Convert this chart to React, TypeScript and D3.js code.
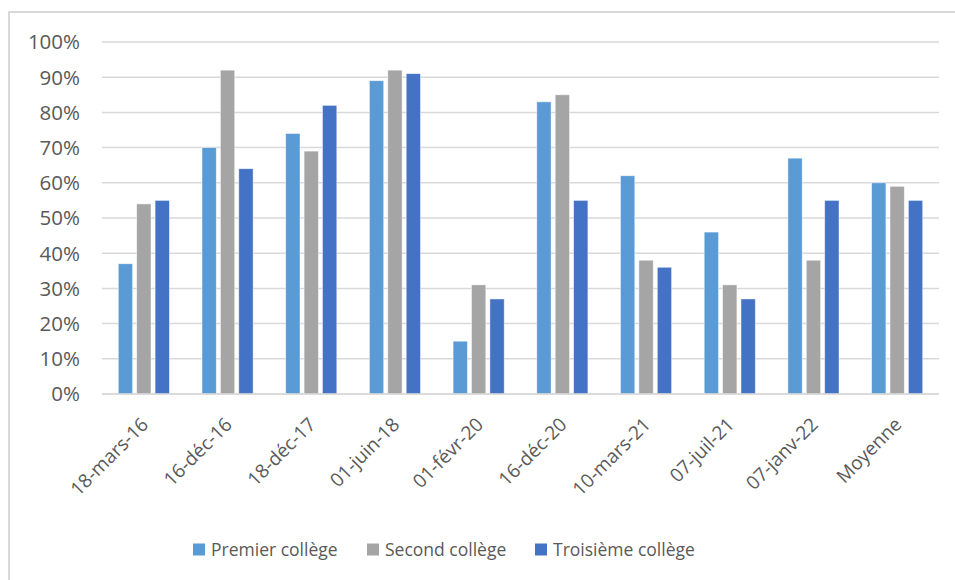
import React, { useEffect, useRef } from 'react';
import * as d3 from 'd3';

const categories = ['18-mars-16', '16-déc-16', '18-déc-17', '01-juin-18', '01-févr-20', '16-déc-20', '10-mars-21', '07-juil-21', '07-janv-22', 'Moyenne'];
const seriesNames = ['Premier collège', 'Second collège', 'Troisième collège'];
const premier = [37, 70, 74, 89, 15, 83, 62, 46, 67, 60];
const second = [54, 92, 69, 92, 31, 85, 38, 31, 38, 59];
const troisieme = [55, 64, 82, 91, 27, 55, 36, 27, 55, 55];
const yTicks = [0, 10, 20, 30, 40, 50, 60, 70, 80, 90, 100];
const colors = ['#5B9BD5', '#A5A5A5', '#4472C4'];

const W = 955;
const H = 580;
const FONT = '"Open Sans", "Liberation Sans", sans-serif';

export default function App() {
  const svgRef = useRef<SVGSVGElement | null>(null);

  useEffect(() => {
    const svg = d3.select(svgRef.current);
    svg.selectAll('*').remove();

    const values = [premier, second, troisieme];
    const plot = { left: 102, right: 939, top: 42, bottom: 394 };

    // outer chart border (cut by the window on the right and bottom)
    svg.append('rect')
      .attr('x', 9).attr('y', 12)
      .attr('width', W + 20).attr('height', H + 20)
      .attr('fill', '#fff')
      .attr('stroke', '#d9d9d9')
      .attr('stroke-width', 2);

    const x = d3.scaleBand<string>()
      .domain(categories)
      .range([plot.left, plot.right]);

    const y = d3.scaleLinear().domain([0, 100]).range([plot.bottom, plot.top]);

    // gridlines
    svg.append('g')
      .selectAll('line')
      .data(yTicks)
      .enter()
      .append('line')
      .attr('x1', plot.left).attr('x2', plot.right)
      .attr('y1', d => y(d)).attr('y2', d => y(d))
      .attr('stroke', '#d9d9d9')
      .attr('stroke-width', 1.5);

    // y tick labels
    svg.append('g')
      .selectAll('text')
      .data(yTicks)
      .enter()
      .append('text')
      .attr('x', 80)
      .attr('y', d => y(d))
      .attr('dy', '0.36em')
      .attr('text-anchor', 'end')
      .attr('fill', '#595959')
      .style('font-family', FONT)
      .style('font-size', '20.5px')
      .text(d => `${d}%`);

    // bars
    const barW = 14.3;
    const step = 18.4;
    values.forEach((vals, s) => {
      svg.append('g')
        .selectAll('rect')
        .data(vals)
        .enter()
        .append('rect')
        .attr('x', (d, i) => x(categories[i])! + x.bandwidth() / 2 + (s - 1) * step - barW / 2)
        .attr('y', d => y(d))
        .attr('width', barW)
        .attr('height', d => y(0) - y(d))
        .attr('fill', colors[s])
        .attr('stroke', '#ffffff')
        .attr('stroke-opacity', 0.6)
        .attr('stroke-width', 0.75);
    });

    // baseline
    svg.append('line')
      .attr('x1', plot.left).attr('x2', plot.right)
      .attr('y1', y(0)).attr('y2', y(0))
      .attr('stroke', '#d9d9d9')
      .attr('stroke-width', 1.5);

    // x labels, rotated
    svg.append('g')
      .selectAll('text')
      .data(categories)
      .enter()
      .append('text')
      .attr('transform', d => `translate(${x(d)! + x.bandwidth() / 2 + 1},${y(0) + 27}) rotate(-45)`)
      .attr('text-anchor', 'end')
      .attr('dy', '0.35em')
      .attr('fill', '#595959')
      .style('font-family', FONT)
      .style('font-size', '19px')
      .text(d => d);

    // legend
    const legendX = [193, 367, 535];
    const legend = svg.append('g')
      .selectAll('g')
      .data(seriesNames)
      .enter()
      .append('g')
      .attr('transform', (d, i) => `translate(${legendX[i]},550)`);

    legend.append('rect')
      .attr('x', 0).attr('y', -6.5)
      .attr('width', 12).attr('height', 12)
      .attr('fill', (d, i) => colors[i]);

    legend.append('text')
      .attr('x', 18)
      .attr('y', 0)
      .attr('dy', '0.35em')
      .attr('fill', '#595959')
      .style('font-family', FONT)
      .style('font-size', '17.5px')
      .text(d => d);
  }, []);

  return (
    <svg
      ref={svgRef}
      width={W}
      height={H}
      style={{ position: 'absolute', left: 0, top: 0, display: 'block' }}
    />
  );
}
